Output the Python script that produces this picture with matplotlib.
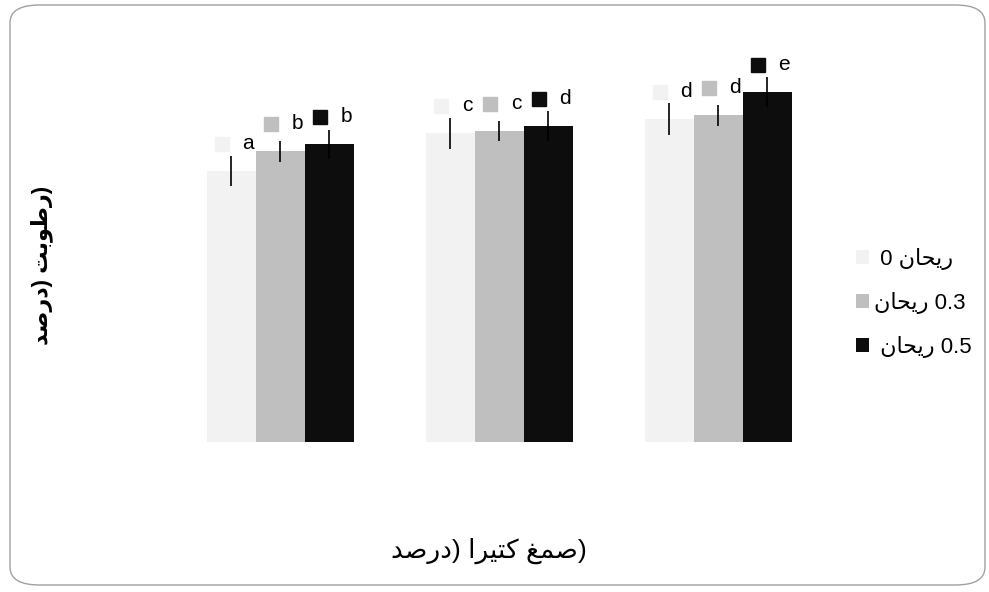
import matplotlib
matplotlib.use("Agg")
import matplotlib.pyplot as plt
import matplotlib.transforms as mtransforms
import numpy as np
from matplotlib.patches import FancyBboxPatch, Patch

plt.rcParams['font.family'] = ['Liberation Sans', 'DejaVu Sans']

# Persian words written in presentation forms, visual (left-to-right) order,
# since matplotlib does no Arabic shaping itself
RAYHAN = "\uFEE5\uFE8E\uFEA4\uFEF3\uFEAD"      # ریحان
ROTOOBAT = "\uFE96\uFE91\uFEEE\uFEC3\uFEAD"    # رطوبت
DARSAD = "\uFEAA\uFEBB\uFEAD\uFEA9"            # درصد
SAMGH = "\uFECE\uFEE4\uFEBB"                   # صمغ
KATIRA = "\uFE8D\uFEAE\uFEF4\uFE98\uFB90"      # کتیرا

# data
groups = ["0", "0.5", "1"]
series_names = [" 0 " + RAYHAN, RAYHAN + " 0.3", " " + RAYHAN + " 0.5"]
moisture = [
    [27.1, 30.9, 32.3],   # ریحان 0
    [29.1, 31.1, 32.7],   # ریحان 0.3
    [29.8, 31.6, 35.0],   # ریحان 0.5
]
errors = [
    [1.5, 1.55, 1.6],
    [1.05, 1.0, 1.05],
    [1.45, 1.5, 1.5],
]
letters = [
    ["a", "c", "d"],
    ["b", "c", "d"],
    ["b", "d", "e"],
]
colors = ["#F2F2F2", "#BFBFBF", "#0D0D0D"]

fig = plt.figure(figsize=(9.89, 5.92), dpi=100)

# rounded chart frame
frame = FancyBboxPatch((10 / 989, 7 / 592), 975 / 989, 580 / 592,
                       boxstyle="round,pad=0,rounding_size=0.03",
                       transform=fig.transFigure, facecolor="none",
                       edgecolor="#A0A0A0", linewidth=1.0, zorder=0)
fig.patches.append(frame)

ax = fig.add_axes([171 / 989, 150 / 592, 656.5 / 989, 400 / 592])
ax.set_xlim(0, 3)
ax.set_ylim(0, 40)
ax.axis("off")

# square key beside each letter label
key_shift = mtransforms.ScaledTranslation(-6.5 / 72, 19.5 / 72, fig.dpi_scale_trans)

x = np.arange(len(groups)) + 0.5
w = 0.2237
for i in range(3):
    xs = x + (i - 1) * w
    ax.bar(xs, moisture[i], width=w, color=colors[i], edgecolor="none",
           label=series_names[i], zorder=2)
    ax.errorbar(xs, moisture[i], yerr=errors[i], fmt="none", ecolor="black",
                elinewidth=1.2, capsize=0, zorder=3)
    ax.plot(xs, moisture[i], marker="s", markersize=10, color=colors[i],
            linestyle="none", zorder=4, clip_on=False,
            transform=ax.transData + key_shift)
    for xi, yi, lt in zip(xs, moisture[i], letters[i]):
        ax.annotate(lt, (xi, yi), xytext=(12, 19.5), textcoords="offset points",
                    ha="center", va="center", fontsize=15, zorder=4)

handles = [Patch(facecolor=c, edgecolor="none") for c in colors]
fig.legend(handles, series_names, loc="center left",
           bbox_to_anchor=(845 / 989, 1 - 303 / 592), frameon=False,
           fontsize=16, handlelength=0.6, handleheight=0.6,
           handletextpad=0.2, labelspacing=1.0, borderpad=0)

fig.text(42 / 989, 1 - 265 / 592, DARSAD + ") " + ROTOOBAT + ")",
         rotation=90, ha="center", va="center", fontsize=16, fontweight="bold")
fig.text(489 / 989, 1 - 551 / 592, DARSAD + ") " + KATIRA + " " + SAMGH + ")",
         ha="center", va="center", fontsize=19)

fig.savefig("out.png", dpi=100)
